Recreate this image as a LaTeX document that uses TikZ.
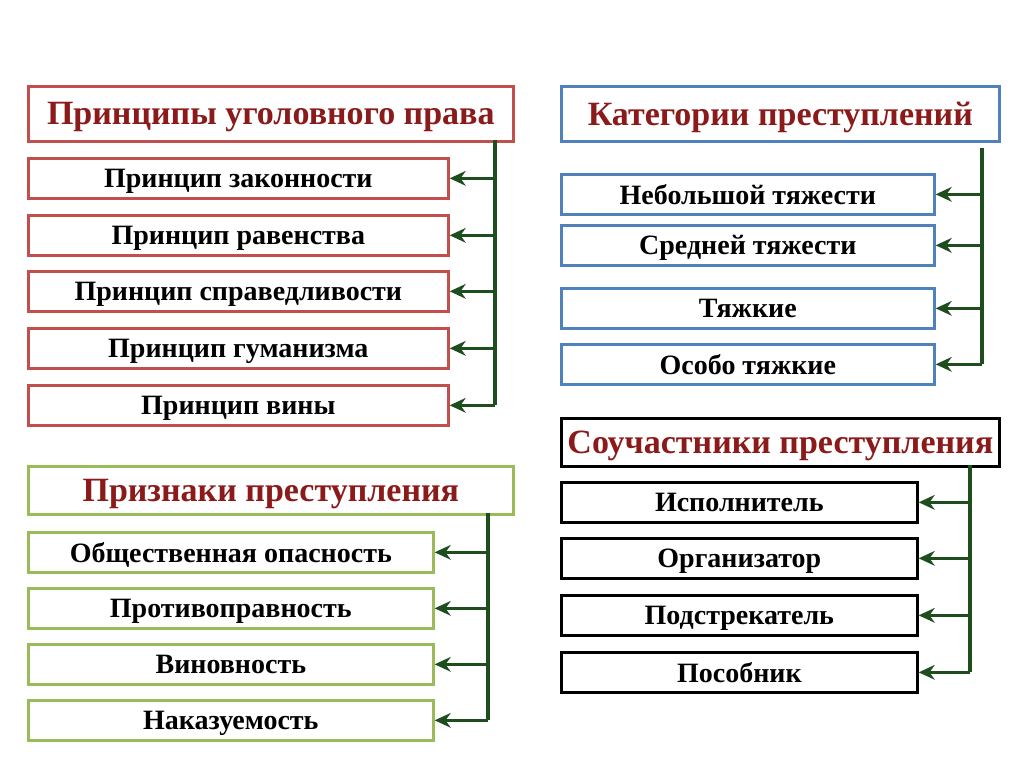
\documentclass[tikz,border=0pt]{standalone}
\usepackage{fontspec}
\setmainfont{Liberation Serif}
\usetikzlibrary{arrows.meta}
\definecolor{tred}{HTML}{8B1A1A}
\definecolor{bred}{HTML}{C0504D}
\definecolor{bgreen}{HTML}{9BBB59}
\definecolor{bblue}{HTML}{4F81BD}
\definecolor{lgreen}{HTML}{1E4D1E}
\tikzset{
 box/.style={draw,line width=2pt,anchor=north west,inner sep=0pt,text depth=0pt,font=\bfseries\fontsize{21}{24}\selectfont},
 ttl/.style={box,text=tred,font=\bfseries\fontsize{25.5}{28}\selectfont},
 conn/.style={draw=lgreen,line width=2.4pt},
 arr/.style={conn,-{Stealth[length=12pt,width=11pt]}}
}
\begin{document}
\begin{tikzpicture}[x=0.75pt,y=-0.75pt]
\useasboundingbox[fill=white] (0,0) rectangle (1024,767);
\def\bx#1#2#3#4#5#6#7{\node[#7,minimum width=(#3-#1)*0.75pt,minimum height=(#4-#2)*0.75pt] (#6) at (#1,#2) {#5};}
% red
\bx{27}{85}{512}{140}{Принципы уголовного права}{r0}{ttl,draw=bred}
\bx{27}{157}{447}{197}{Принцип законности}{r1}{box,draw=bred}
\bx{27}{214}{447}{254}{Принцип равенства}{r2}{box,draw=bred}
\bx{27}{270}{447}{310}{Принцип справедливости}{r3}{box,draw=bred}
\bx{27}{327}{447}{367}{Принцип гуманизма}{r4}{box,draw=bred}
\bx{27}{384}{447}{424}{Принцип вины}{r5}{box,draw=bred}
\coordinate (rt) at (495,140);
\draw[conn] (rt) -- (495,405);
\foreach \i in {1,...,5} \draw[arr] (rt |- r\i.east) -- (r\i.east);
% green
\bx{27}{465}{512}{513}{Признаки преступления}{g0}{ttl,draw=bgreen}
\bx{27}{531}{432}{571}{Общественная опасность}{g1}{box,draw=bgreen}
\bx{27}{587}{432}{627}{Противоправность}{g2}{box,draw=bgreen}
\bx{27}{643}{432}{683}{Виновность}{g3}{box,draw=bgreen}
\bx{27}{699}{432}{739}{Наказуемость}{g4}{box,draw=bgreen}
\coordinate (gt) at (488,513);
\draw[conn] (gt) -- (488,720);
\foreach \i in {1,...,4} \draw[arr] (gt |- g\i.east) -- (g\i.east);
% blue
\bx{560}{85}{998}{140}{Категории преступлений}{b0}{ttl,draw=bblue}
\bx{560}{173}{933}{213}{Небольшой тяжести}{b1}{box,draw=bblue}
\bx{560}{224}{933}{264}{Средней тяжести}{b2}{box,draw=bblue}
\bx{560}{287}{933}{327}{Тяжкие}{b3}{box,draw=bblue}
\bx{560}{343}{933}{383}{Особо тяжкие}{b4}{box,draw=bblue}
\coordinate (bt) at (982,148);
\draw[conn] (bt) -- (982,364);
\foreach \i in {1,...,4} \draw[arr] (bt |- b\i.east) -- (b\i.east);
% black
\bx{560}{417}{998}{465}{Соучастники преступления}{k0}{ttl,draw=black}
\bx{560}{481}{916}{521}{Исполнитель}{k1}{box,draw=black}
\bx{560}{537}{916}{577}{Организатор}{k2}{box,draw=black}
\bx{560}{594}{916}{634}{Подстрекатель}{k3}{box,draw=black}
\bx{560}{651}{916}{691}{Пособник}{k4}{box,draw=black}
\coordinate (kt) at (970,465);
\draw[conn] (kt) -- (970,672);
\foreach \i in {1,...,4} \draw[arr] (kt |- k\i.east) -- (k\i.east);
\end{tikzpicture}
\end{document}
